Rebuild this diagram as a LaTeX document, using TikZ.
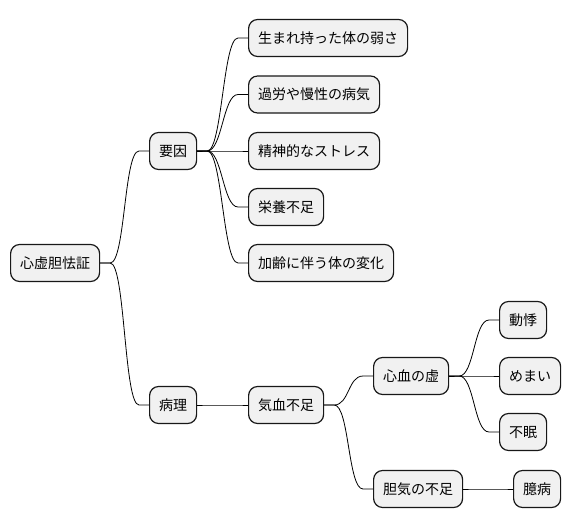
\documentclass[tikz,border=0pt]{standalone}
\usepackage{fontspec}
\setmainfont{Noto Sans CJK JP}
\usetikzlibrary{calc}
\definecolor{boxfill}{HTML}{F1F1F1}
\definecolor{boxline}{HTML}{181818}

\tikzset{
  topic/.style={draw=boxline, fill=boxfill, line width=1.2pt, rounded corners=9pt,
    minimum height=37pt, inner xsep=9.5pt, inner ysep=0pt, anchor=west,
    font=\fontsize{14pt}{16pt}\selectfont},
  branch/.style={line width=0.8pt, to path={-- ++(10pt,0)
    .. controls +(15pt,0) and ($(\tikztotarget)+(-25pt,0)$)
    .. ($(\tikztotarget)+(-10pt,0)$) -- (\tikztotarget)}}
}

\begin{document}
\begin{tikzpicture}[x=1pt,y=-1pt]
      \useasboundingbox (0,0) rectangle (572,527);
      % root and first level
      \node[topic] (root) at (10,263) {心虚胆怯証};
      \node[topic] (cause) at (149,151) {要因};
      \node[topic] (patho) at (149,405) {病理};
      % causes
      \node[topic] (weak) at (248,38) {生まれ持った体の弱さ};
      \node[topic] (fatigue) at (248,94.5) {過労や慢性の病気};
      \node[topic] (stress) at (248,151) {精神的なストレス};
      \node[topic] (nutri) at (248,207) {栄養不足};
      \node[topic] (aging) at (248,263) {加齢に伴う体の変化};
      % pathology
      \node[topic] (qiblood) at (248,405) {気血不足};
      \node[topic] (heart) at (373,376) {心血の虚};
      \node[topic] (gall) at (373,489) {胆気の不足};
      \node[topic] (palp) at (499,320) {動悸};
      \node[topic] (dizzy) at (499,376) {めまい};
      \node[topic] (insom) at (499,432) {不眠};
      \node[topic] (timid) at (513,489) {臆病};
      % connectors
      \draw[branch] (root.east) to (cause.west);
      \draw[branch] (root.east) to (patho.west);
      \foreach \leaf in {weak,fatigue,stress,nutri,aging}
        \draw[branch] (cause.east) to (\leaf.west);
      \draw[branch] (patho.east) to (qiblood.west);
      \draw[branch] (qiblood.east) to (heart.west);
      \draw[branch] (qiblood.east) to (gall.west);
      \foreach \leaf in {palp,dizzy,insom}
        \draw[branch] (heart.east) to (\leaf.west);
      \draw[branch] (gall.east) to (timid.west);
\end{tikzpicture}
\end{document}
